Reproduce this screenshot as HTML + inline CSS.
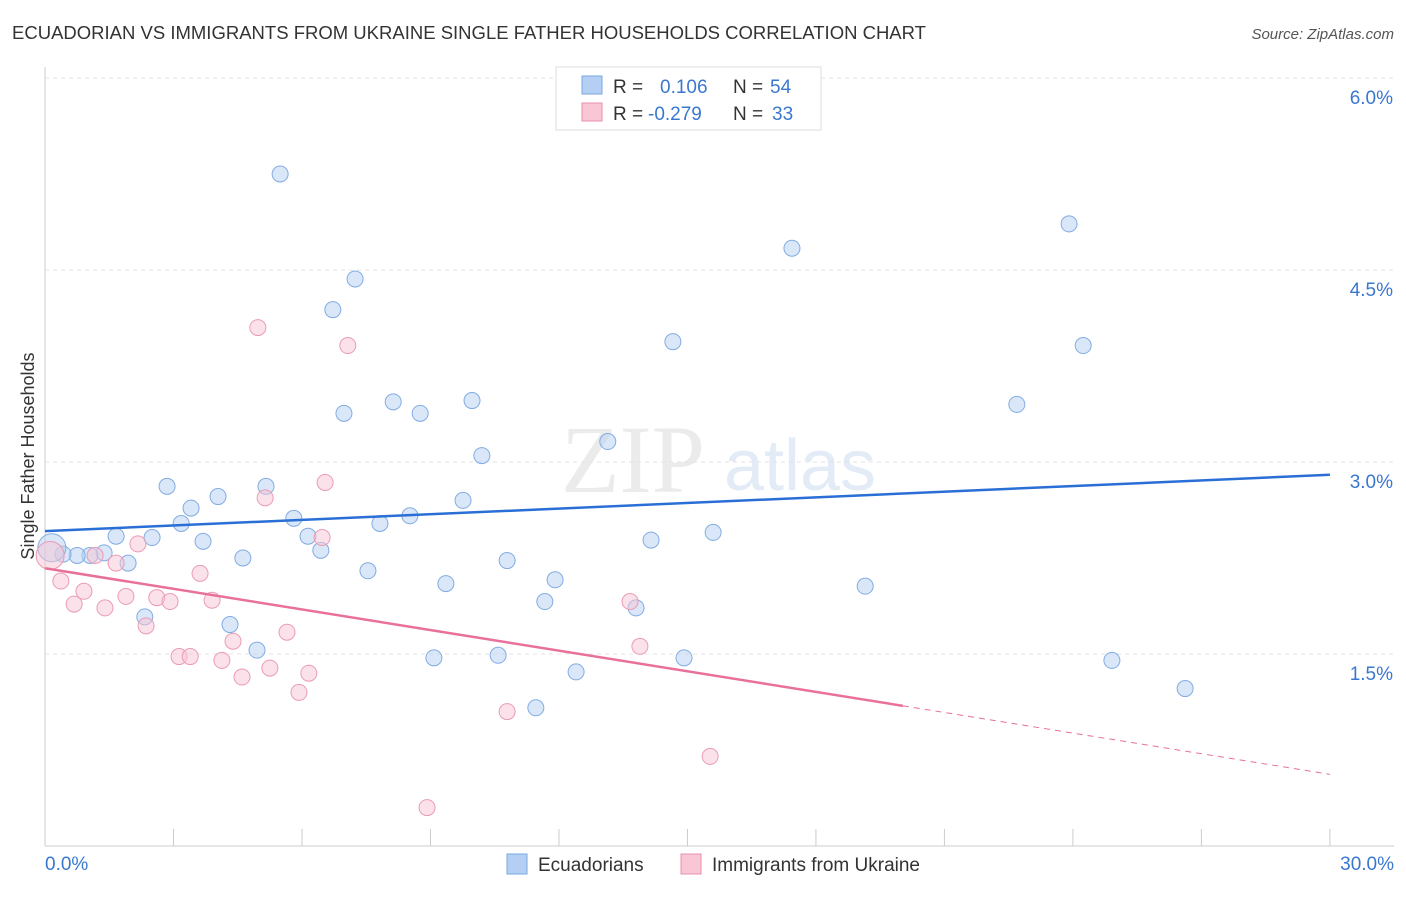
<!DOCTYPE html>
<html><head><meta charset="utf-8"><style>
body{margin:0;background:#fff;font-family:"Liberation Sans",sans-serif;}
</style></head><body>
<svg width="1406" height="892" xmlns="http://www.w3.org/2000/svg" font-family="Liberation Sans, sans-serif">
<text x="12" y="39" font-size="18" fill="#333" textLength="914" lengthAdjust="spacingAndGlyphs">ECUADORIAN VS IMMIGRANTS FROM UKRAINE SINGLE FATHER HOUSEHOLDS CORRELATION CHART</text>
<text x="1394" y="39" font-size="15" fill="#555" text-anchor="end" font-style="italic">Source: ZipAtlas.com</text>
<g opacity="0.5">
<text x="633" y="492" font-size="96" fill="#d9d9d9" text-anchor="middle" font-family="Liberation Serif, serif">ZIP</text>
<text x="800" y="490" font-size="72" fill="#c7d9ee" text-anchor="middle">atlas</text>
</g>
<g id="grid"></g>
<g id="axes"></g>
<g id="marks"></g>
<text transform="translate(34,456) rotate(-90)" font-size="18" fill="#333" text-anchor="middle">Single Father Households</text>
<g>
<rect x="556" y="67" width="265" height="63" fill="#fff" stroke="#ddd"/>
<rect x="582" y="76" width="20" height="18" fill="#b4cff3" stroke="#7aa7e0"/>
<rect x="582" y="103" width="20" height="18" fill="#f8c6d5" stroke="#e890ab"/>
<text x="613" y="93" font-size="19" fill="#333">R = <tspan fill="#3a78d0" x="660">0.106</tspan><tspan x="733" fill="#333">N = </tspan><tspan fill="#3a78d0" x="770">54</tspan></text>
<text x="613" y="120" font-size="19" fill="#333">R = <tspan fill="#3a78d0" x="648">-0.279</tspan><tspan x="733" fill="#333">N = </tspan><tspan fill="#3a78d0" x="772">33</tspan></text>
</g>
<g>
<rect x="507" y="854" width="20" height="20" fill="#b4cff3" stroke="#7aa7e0"/>
<text x="538" y="871" font-size="19" fill="#333">Ecuadorians</text>
<rect x="681" y="854" width="20" height="20" fill="#f8c6d5" stroke="#e890ab"/>
<text x="712" y="871" font-size="19" fill="#333">Immigrants from Ukraine</text>
</g>
</svg>
<script>
const yTicks=[1.5,3.0,4.5,6.0];
const yTickLabels=["1.5%","3.0%","4.5%","6.0%"];
const xTicks=[0,3,6,9,12,15,18,21,24,27,30];
const blueX=[5.49,7.24,6.72,6.98,8.13,8.76,9.97,10.20,9.76,8.52,7.82,7.54,9.36,10.79,11.91,11.67,10.58,11.46,12.40,9.08,13.14,14.66,14.15,15.60,13.80,14.92,17.44,19.15,23.91,24.24,22.69,24.91,26.62,2.85,5.16,4.04,3.41,3.18,2.50,1.66,3.69,5.81,6.14,6.44,4.62,1.94,1.38,1.05,0.75,0.42,0.16,2.33,4.32,4.95];
const blueY=[5.25,4.43,4.19,3.38,3.47,3.38,3.48,3.05,2.70,2.58,2.52,2.15,2.05,2.23,2.08,1.91,1.49,1.08,1.36,1.47,3.16,3.94,2.39,2.45,1.86,1.47,4.67,2.03,4.86,3.91,3.45,1.45,1.23,2.81,2.81,2.73,2.64,2.52,2.41,2.42,2.38,2.56,2.42,2.31,2.25,2.21,2.29,2.27,2.27,2.28,2.33,1.79,1.73,1.53];
const pinkX=[4.97,7.07,6.54,5.14,6.47,2.17,3.62,1.66,1.17,0.91,0.37,0.68,1.40,1.89,2.61,2.92,3.90,2.36,4.39,5.65,3.13,3.39,4.13,4.60,5.25,6.16,5.93,10.79,13.66,13.89,15.53,8.92,0.12];
const pinkY=[4.05,3.91,2.84,2.72,2.41,2.36,2.13,2.21,2.27,1.99,2.07,1.89,1.86,1.95,1.94,1.91,1.92,1.72,1.60,1.67,1.48,1.48,1.45,1.32,1.39,1.35,1.20,1.05,1.91,1.56,0.70,0.30,2.27];
const blueTrend=[2.46,2.90];
const pinkTrend=[2.17,0.56];
const pinkSolidEnd=20.03;
const NS="http://www.w3.org/2000/svg";
const xs=v=>45+v*42.83, ys=v=>846-v*128;
function mk(tag,attrs,parent){const e=document.createElementNS(NS,tag);for(const k in attrs)e.setAttribute(k,attrs[k]);document.getElementById(parent).appendChild(e);return e;}
yTicks.forEach((t,i)=>{
 const l=mk('line',{x1:45,x2:1394,y1:ys(t),y2:ys(t),stroke:'#e3e3e3','stroke-dasharray':'4,4'},'grid');
 
 
 const tx=mk('text',{x:1393,y:ys(t)+26,'font-size':19,fill:'#3a78d0','text-anchor':'end'},'grid');
 tx.textContent=yTickLabels[i];
 
 
});
const ax=mk('line',{x1:45,x2:45,y1:67,y2:846,stroke:'#ccc'},'axes');


const bx=mk('line',{x1:45,x2:1394,y1:846,y2:846,stroke:'#ccc'},'axes');


xTicks.forEach(t=>{
 const l=mk('line',{x1:xs(t),x2:xs(t),y1:829,y2:846,stroke:'#ccc'},'axes');
 
 
});
const xl0=mk('text',{x:45,y:870,'font-size':19,fill:'#3a78d0'},'axes');xl0.textContent='0.0%';


const xl1=mk('text',{x:1394,y:870,'font-size':19,fill:'#3a78d0','text-anchor':'end'},'axes');xl1.textContent='30.0%';


blueX.forEach((x,i)=>{
 const c=mk('circle',{cx:xs(x),cy:ys(blueY[i]),r:i==50?14:8,fill:'#b4cff3','fill-opacity':0.5,stroke:'#82ace2','stroke-width':1},'marks');
 
 
});
pinkX.forEach((x,i)=>{
 const c=mk('circle',{cx:xs(x),cy:ys(pinkY[i]),r:i==32?14:8,fill:'#f8c6d5','fill-opacity':0.5,stroke:'#eb9bb4','stroke-width':1},'marks');
 
 
});
const bt=mk('line',{x1:xs(0),y1:ys(blueTrend[0]),x2:xs(30),y2:ys(blueTrend[1]),stroke:'#2a6fd6','stroke-width':2.5},'marks');


const pm=pinkTrend[0]+(pinkTrend[1]-pinkTrend[0])*pinkSolidEnd/30;
const pt=mk('line',{x1:xs(0),y1:ys(pinkTrend[0]),x2:xs(pinkSolidEnd),y2:ys(pm),stroke:'#e8709a','stroke-width':2.5},'marks');


const pd=mk('line',{x1:xs(pinkSolidEnd),y1:ys(pm),x2:xs(30),y2:ys(pinkTrend[1]),stroke:'#e8709a','stroke-width':1,'stroke-dasharray':'6,5'},'marks');


</script>
</body></html>
